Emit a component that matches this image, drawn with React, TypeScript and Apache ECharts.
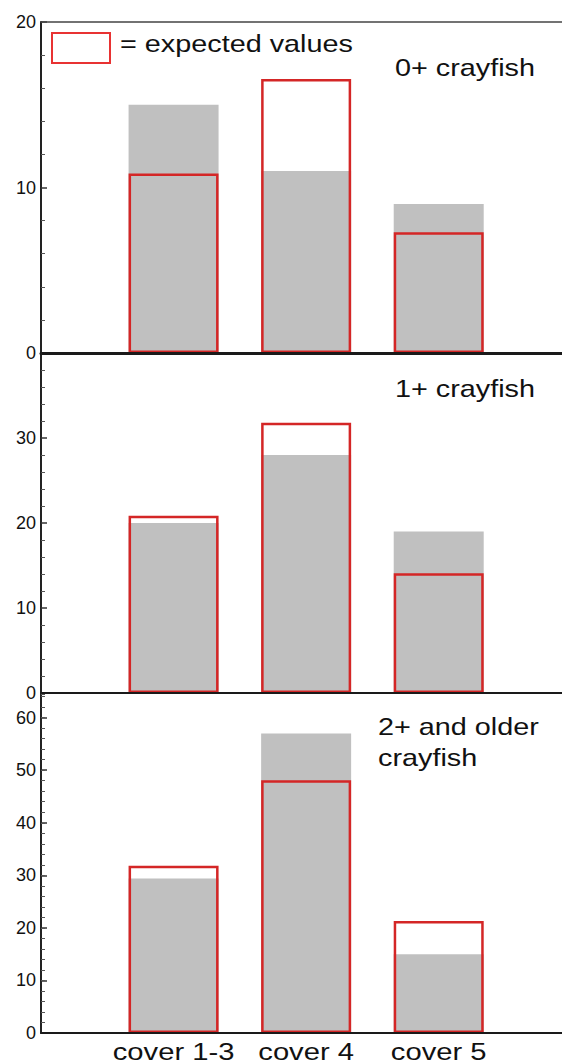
import React, { useEffect, useRef } from "react";
import * as echarts from "echarts";

// ---- data ----
const categories = ["cover 1-3", "cover 4", "cover 5"];
const categoryPositions = [1, 2, 3];
const observed0 = [15, 11, 9];
const expected0 = [10.85, 16.55, 7.3];
const observed1 = [20, 28, 19];
const expected1 = [20.85, 31.8, 14.1];
const observed2 = [29.4, 57, 15];
const expected2 = [31.8, 48.1, 21.3];
const panelTitles = ["0+ crayfish", "1+ crayfish", "2+ and older\ncrayfish"];
const legendText = "= expected values";
const yMax = [20, 40, 64.5];
const yInterval = 10;
const xMax = 3.93;

const FONT = '"Liberation Sans", Arial, Helvetica, sans-serif';
const GRAY = "#c0c0c0";
const RED = "#d42626";

const pairs = (vals: number[]) => vals.map((v, i) => [categoryPositions[i], v]);

export default function App() {
  const ref = useRef<HTMLDivElement>(null);
  useEffect(() => {
    if (!ref.current) return;
    const chart = echarts.init(ref.current, undefined, { renderer: "svg" });
    const observed = [observed0, observed1, observed2];
    const expected = [expected0, expected1, expected2];

    const grids = [
      { left: 41, right: -2, top: 22, height: 331 },
      { left: 41, right: -2, top: 353, height: 340 },
      { left: 41, right: -2, top: 694, height: 339 },
    ];

    const xAxes: any[] = [0, 1, 2].map((p) => ({
      gridIndex: p,
      type: "value",
      min: 0,
      max: xMax,
      interval: 1,
      z: 5,
      axisLine: { show: true, onZero: false, lineStyle: { color: "#1a1a1a", width: p === 0 ? 3 : 2 } },
      axisTick: { show: false },
      axisLabel: { show: false },
      splitLine: { show: false },
    }));
    // top frame line of the first panel
    xAxes.push({
      gridIndex: 0,
      type: "value",
      position: "top",
      min: 0,
      max: xMax,
      interval: 1,
      z: 5,
      axisLine: { show: true, onZero: false, lineStyle: { color: "#444", width: 1.5 } },
      axisTick: { show: false },
      axisLabel: { show: false },
      splitLine: { show: false },
    });

    const yAxes: any[] = [0, 1, 2].map((p) => ({
      gridIndex: p,
      type: "value",
      min: 0,
      max: yMax[p],
      interval: yInterval,
      position: "left",
      axisLine: { show: true, onZero: false, lineStyle: { color: "#222", width: 2 } },
      axisTick: { show: true, inside: true, length: 6, lineStyle: { color: "#333", width: 1.5 } },
      minorTick: { show: p < 2, splitNumber: 5, length: 4, lineStyle: { color: "#555", width: 1 } },
      axisLabel: { fontSize: 18, color: "#111", fontFamily: FONT, margin: 5, showMaxLabel: p === 0 },
      splitLine: { show: false },
    }));
    // fine ticks every 2 units for the third panel (its top is not a multiple of 10)
    yAxes.push({
      gridIndex: 2,
      type: "value",
      min: 0,
      max: yMax[2],
      interval: 2,
      position: "left",
      axisLine: { show: false },
      axisTick: { show: true, inside: true, length: 4, lineStyle: { color: "#555", width: 1 } },
      axisLabel: { show: false },
      splitLine: { show: false },
    });

    const series: any[] = [];
    [0, 1, 2].forEach((p) => {
      series.push({
        type: "bar",
        xAxisIndex: p,
        yAxisIndex: p,
        data: pairs(observed[p]),
        barWidth: 90,
        barGap: "-100%",
        itemStyle: { color: GRAY },
        z: 2,
      });
      series.push({
        type: "bar",
        xAxisIndex: p,
        yAxisIndex: p,
        data: pairs(expected[p]),
        barWidth: 90,
        barGap: "-100%",
        itemStyle: { color: "rgba(0,0,0,0)", borderColor: RED, borderWidth: 2.5 },
        z: 3,
      });
    });

    chart.setOption({
      animation: false,
      backgroundColor: "#fff",
      grid: grids,
      xAxis: xAxes,
      yAxis: yAxes,
      series,
    });

    const textStyle = (text: string, size: number, align: string) => ({
      text,
      fontSize: size,
      fontFamily: FONT,
      fill: "#111",
      align,
      verticalAlign: "middle",
      lineHeight: 31,
    });

    const graphics: any[] = [
      { type: "rect", shape: { x: 52, y: 33, width: 58, height: 30 }, style: { fill: "#fff", stroke: "#e83232", lineWidth: 2 }, z: 10 },
      { type: "text", x: 120, y: 44, scaleX: 1.2, style: textStyle(legendText, 24, "left"), z: 10 },
      { type: "text", x: 395, y: 68, scaleX: 1.2, style: textStyle(panelTitles[0], 24, "left"), z: 10 },
      { type: "text", x: 395, y: 389, scaleX: 1.2, style: textStyle(panelTitles[1], 24, "left"), z: 10 },
      { type: "text", x: 378, y: 742, scaleX: 1.2, style: textStyle(panelTitles[2], 24, "left"), z: 10 },
    ];
    categories.forEach((c, i) => {
      const px = chart.convertToPixel({ xAxisIndex: 2 } as any, categoryPositions[i]) as number;
      graphics.push({ type: "text", x: px, y: 1052, scaleX: 1.27, style: textStyle(c, 23, "center"), z: 10 });
    });
    chart.setOption({ graphic: graphics });

    return () => chart.dispose();
  }, []);
  return (
    <div
      ref={ref}
      style={{ position: "absolute", left: 0, top: 0, width: 562, height: 1064, background: "#fff" }}
    />
  );
}
